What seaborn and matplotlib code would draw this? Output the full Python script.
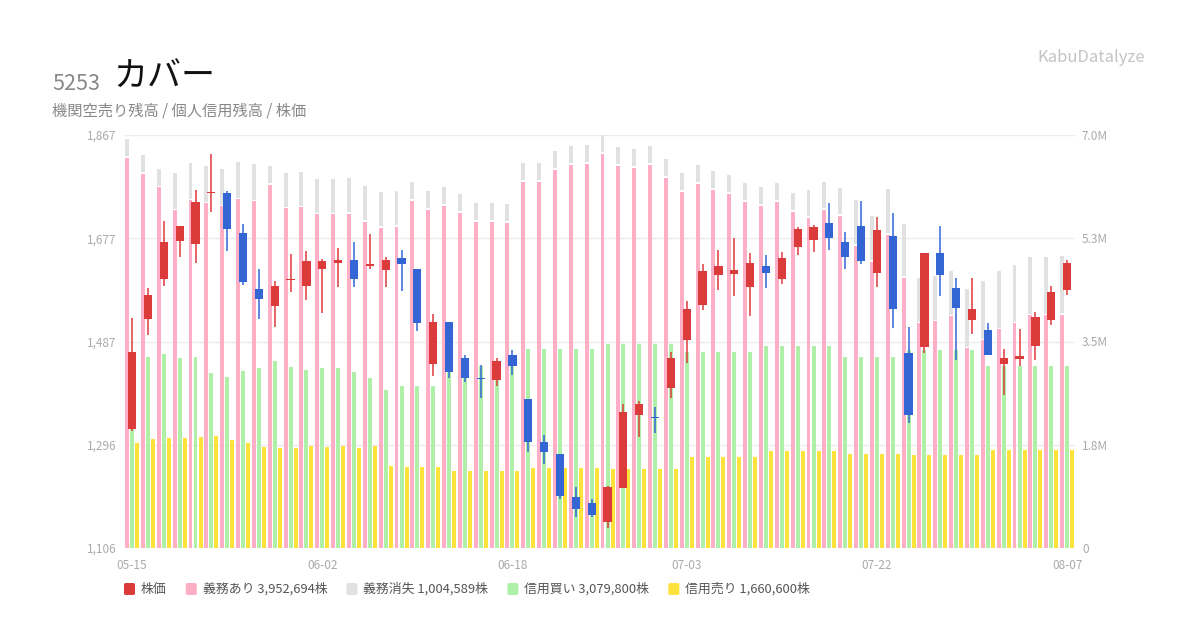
import numpy as np
import pandas as pd
import seaborn as sns
import matplotlib.pyplot as plt
from matplotlib.patches import FancyBboxPatch

# trading days shown on the chart (2025)
dates = ['05-15', '05-16', '05-19', '05-20', '05-21', '05-22', '05-23', '05-26', '05-27', '05-28',
         '05-29', '05-30', '06-02', '06-03', '06-04', '06-05', '06-06', '06-09', '06-10', '06-11',
         '06-12', '06-13', '06-16', '06-17', '06-18', '06-19', '06-20', '06-23', '06-24', '06-25',
         '06-26', '06-27', '06-30', '07-01', '07-02', '07-03', '07-04', '07-07', '07-08', '07-09',
         '07-10', '07-11', '07-14', '07-15', '07-16', '07-17', '07-18', '07-22', '07-23', '07-24',
         '07-25', '07-28', '07-29', '07-30', '07-31', '08-01', '08-04', '08-05', '08-06', '08-07']
tick_dates = ['05-15', '06-02', '06-18', '07-03', '07-22', '08-07']
price_tick_labels = ['1,106', '1,296', '1,487', '1,677', '1,867']
vol_tick_labels = ['0', '1.8M', '3.5M', '5.3M', '7.0M']

# stock price (OHLC)
price_open = [1325, 1528, 1601, 1671, 1667, 1760, 1760, 1687, 1584, 1552,
              1600, 1588, 1621, 1632, 1636, 1625, 1618, 1641, 1621, 1445,
              1522, 1457, 1419, 1416, 1461, 1380, 1301, 1279, 1200, 1189,
              1153, 1217, 1351, 1347, 1401, 1489, 1554, 1609, 1610, 1587,
              1625, 1601, 1660, 1673, 1705, 1669, 1700, 1612, 1681, 1465,
              1476, 1650, 1586, 1526, 1507, 1445, 1454, 1478, 1526, 1581]
price_high = [1530, 1586, 1709, 1700, 1766, 1832, 1764, 1703, 1621, 1598,
              1647, 1654, 1639, 1658, 1669, 1685, 1643, 1656, 1621, 1538,
              1522, 1461, 1443, 1457, 1470, 1380, 1314, 1279, 1219, 1197,
              1220, 1371, 1377, 1366, 1468, 1562, 1630, 1656, 1678, 1650,
              1645, 1652, 1698, 1702, 1742, 1689, 1746, 1715, 1724, 1514,
              1650, 1700, 1603, 1603, 1520, 1472, 1509, 1540, 1588, 1636]
price_low = [1322, 1498, 1588, 1643, 1632, 1726, 1654, 1590, 1528, 1513,
             1577, 1563, 1539, 1587, 1587, 1620, 1587, 1579, 1506, 1423,
             1419, 1412, 1383, 1405, 1425, 1282, 1260, 1197, 1164, 1164,
             1142, 1216, 1311, 1317, 1383, 1447, 1544, 1581, 1570, 1533,
             1585, 1592, 1645, 1651, 1656, 1620, 1629, 1587, 1511, 1337,
             1465, 1570, 1453, 1500, 1462, 1388, 1441, 1452, 1517, 1572]
price_close = [1467, 1573, 1670, 1700, 1744, 1761, 1693, 1596, 1564, 1588,
               1600, 1634, 1634, 1637, 1601, 1630, 1636, 1629, 1520, 1522,
               1430, 1419, 1417, 1450, 1441, 1302, 1283, 1201, 1177, 1166,
               1219, 1356, 1371, 1345, 1457, 1547, 1617, 1625, 1619, 1632,
               1612, 1641, 1694, 1698, 1678, 1642, 1634, 1692, 1546, 1351,
               1650, 1609, 1548, 1546, 1462, 1457, 1459, 1531, 1577, 1632]

# 義務あり (institutional short, obligation remaining)
gimu_ari = [6618000, 6347000, 6111000, 5722000, 5891000, 5840000, 5790000, 5908000, 5874000, 6161000,
            5756000, 5773000, 5655000, 5655000, 5666000, 5531000, 5429000, 5446000, 5885000, 5733000,
            5801000, 5683000, 5531000, 5531000, 5514000, 6206000, 6206000, 6409000, 6494000, 6511000,
            6680000, 6477000, 6443000, 6494000, 6274000, 6038000, 6173000, 6071000, 6004000, 5869000,
            5801000, 5869000, 5700000, 5598000, 5733000, 5632000, 5125000, 4855000, 5311000, 4584000,
            3807000, 3841000, 3926000, 3385000, 3520000, 3706000, 3807000, 3942000, 3942000, 3952694]
# 義務消失
gimu_shoshitsu = [321000, 315000, 315000, 636000, 636000, 636000, 636000, 636000, 636000, 315000,
                  603000, 603000, 603000, 603000, 608000, 608000, 608000, 608000, 321000, 321000,
                  321000, 321000, 321000, 321000, 321000, 321000, 321000, 321000, 321000, 321000,
                  321000, 321000, 321000, 321000, 321000, 321000, 321000, 321000, 321000, 321000,
                  321000, 321000, 321000, 473000, 473000, 473000, 777000, 777000, 777000, 912000,
                  777000, 777000, 777000, 997000, 997000, 997000, 997000, 997000, 997000, 1004589]
# 信用買い
shinyo_kai = [3238000, 3238000, 3283000, 3216000, 3238000, 2968000, 2900000, 3002000, 3053000, 3171000,
              3069000, 3019000, 3053000, 3053000, 2979000, 2878000, 2675000, 2743000, 2743000, 2743000,
              3086000, 3086000, 3086000, 3086000, 3086000, 3368000, 3368000, 3368000, 3368000, 3368000,
              3452000, 3452000, 3452000, 3452000, 3452000, 3317000, 3317000, 3317000, 3317000, 3317000,
              3419000, 3419000, 3419000, 3419000, 3419000, 3233000, 3233000, 3233000, 3233000, 3351000,
              3351000, 3351000, 3351000, 3351000, 3079800, 3079800, 3079800, 3079800, 3079800, 3079800]
# 信用売り
shinyo_uri = [1785000, 1853000, 1870000, 1870000, 1887000, 1904000, 1836000, 1785000, 1718000, 1701000,
              1701000, 1735000, 1718000, 1735000, 1701000, 1735000, 1397000, 1380000, 1380000, 1380000,
              1312000, 1312000, 1312000, 1312000, 1312000, 1363000, 1363000, 1363000, 1363000, 1363000,
              1340000, 1340000, 1340000, 1340000, 1340000, 1543000, 1543000, 1543000, 1543000, 1543000,
              1645000, 1645000, 1645000, 1645000, 1645000, 1594000, 1594000, 1594000, 1594000, 1577000,
              1577000, 1577000, 1577000, 1577000, 1660600, 1660600, 1660600, 1660600, 1660600, 1660600]

RED = '#dc3b3c'
BLUE = '#3366d4'
PINK = '#ffafc5'
GRAY = '#e1e1e1'
GREEN = '#aff0a8'
YELLOW = '#fde23c'
LABEL = '#aaaaaa'

sns.set_style('white')
plt.rcParams['font.family'] = ['Noto Sans CJK JP', 'DejaVu Sans']

W, H = 1200, 630
fig = plt.figure(figsize=(W / 100, H / 100), dpi=100)
left, right, top, bottom = 125, 1075, 135, 548
ax = fig.add_axes([left / W, 1 - bottom / H, (right - left) / W, (bottom - top) / H])

n = len(dates)
idx = np.arange(n)
ari = np.array(gimu_ari)
total = ari + np.array(gimu_shoshitsu)

# margin / short balances: grey = obligation total, pink drawn over it
vol = pd.DataFrame({
    'idx': np.tile(idx, 3),
    'series': ['total'] * n + ['kai'] * n + ['uri'] * n,
    'value': np.concatenate([total, shinyo_kai, shinyo_uri]),
})
group_w = 0.95
bar_w = 0.25
sns.barplot(data=vol, x='idx', y='value', hue='series', hue_order=['total', 'kai', 'uri'],
            palette={'total': GRAY, 'kai': GREEN, 'uri': YELLOW}, width=group_w, dodge=True,
            saturation=1, errorbar=None, legend=False, ax=ax, linewidth=0)
for p in ax.patches:
    w = p.get_width()
    p.set_x(p.get_x() + (w - bar_w) / 2)
    p.set_width(bar_w)
ax.bar(idx - group_w / 3, ari, width=bar_w, color=PINK, linewidth=0)
# thin white gap between 義務あり and 義務消失
ax.bar(idx - group_w / 3, np.full(n, 25000), bottom=ari, width=bar_w, color='white', linewidth=0)

ax.set_ylim(0, 7.0e6)
ax.set_xlim(-0.45, n - 0.5)
ax.set_yticks(np.linspace(0, 7.0e6, 5), vol_tick_labels)
ax.set_xticks([dates.index(d) for d in tick_dates], tick_dates)
ax.set_xlabel('')
ax.set_ylabel('')
ax.grid(axis='y', color='#ececec', linewidth=1)
ax.set_axisbelow(True)
for s in ax.spines.values():
    s.set_visible(False)

# candlesticks on the price axis
axp = ax.twinx()
ax.yaxis.tick_right()
axp.yaxis.tick_left()
ax.tick_params(axis='y', length=0, labelsize=8.5, labelcolor=LABEL, pad=5,
               left=False, labelleft=False, right=False, labelright=True)
ax.tick_params(axis='x', length=0, labelsize=8.5, labelcolor=LABEL, pad=8)
o = np.array(price_open)
c = np.array(price_close)
up = c >= o
colors = np.where(up, RED, BLUE)
axp.vlines(idx, price_low, price_high, colors=colors, linewidth=1.1)
body_h = np.maximum(np.abs(c - o), 2.0)
axp.bar(idx, body_h, bottom=np.minimum(o, c), width=0.52, color=colors, linewidth=0)
ymin, ymax = 1106, 1867
axp.set_ylim(ymin, ymax)
axp.set_yticks(np.linspace(ymin, ymax, 5), price_tick_labels)
axp.tick_params(axis='y', length=0, labelsize=8.5, labelcolor=LABEL, pad=6,
                left=False, labelleft=True, right=False, labelright=False)
axp.set_xlim(-0.45, n - 0.5)
for s in axp.spines.values():
    s.set_visible(False)

# header
fig.text(52 / W, 1 - 90 / H, '5253', fontsize=15.5, color='#888888', va='baseline')
fig.text(113 / W, 1 - 87 / H, 'カバー', fontsize=24.5, color='#111111', va='baseline')
fig.text(52 / W, 1 - 111 / H, '機関空売り残高 / 個人信用残高 / 株価', fontsize=11,
         color='#888888', va='center')
fig.text(1145 / W, 1 - 57 / H, 'KabuDatalyze', fontsize=12, color='#c4c4c4',
         ha='right', va='center')

# legend
items = [
    ('株価', RED),
    (f'義務あり {gimu_ari[-1]:,}株', PINK),
    (f'義務消失 {gimu_shoshitsu[-1]:,}株', GRAY),
    (f'信用買い {shinyo_kai[-1]:,}株', GREEN),
    (f'信用売り {shinyo_uri[-1]:,}株', YELLOW),
]
renderer = fig.canvas.get_renderer()
x = 124
ly = 589
for label, col in items:
    sq = FancyBboxPatch((x / W, 1 - (ly + 6) / H), 11 / W, 12 / H,
                        boxstyle='round,pad=0,rounding_size=0.002',
                        transform=fig.transFigure, facecolor=col, edgecolor='none')
    fig.add_artist(sq)
    t = fig.text((x + 17) / W, 1 - ly / H, label, fontsize=9.3, color='#555555', va='center')
    tw = t.get_window_extent(renderer).width
    x = x + 17 + tw + 19

fig.savefig('out.png', dpi=100)
